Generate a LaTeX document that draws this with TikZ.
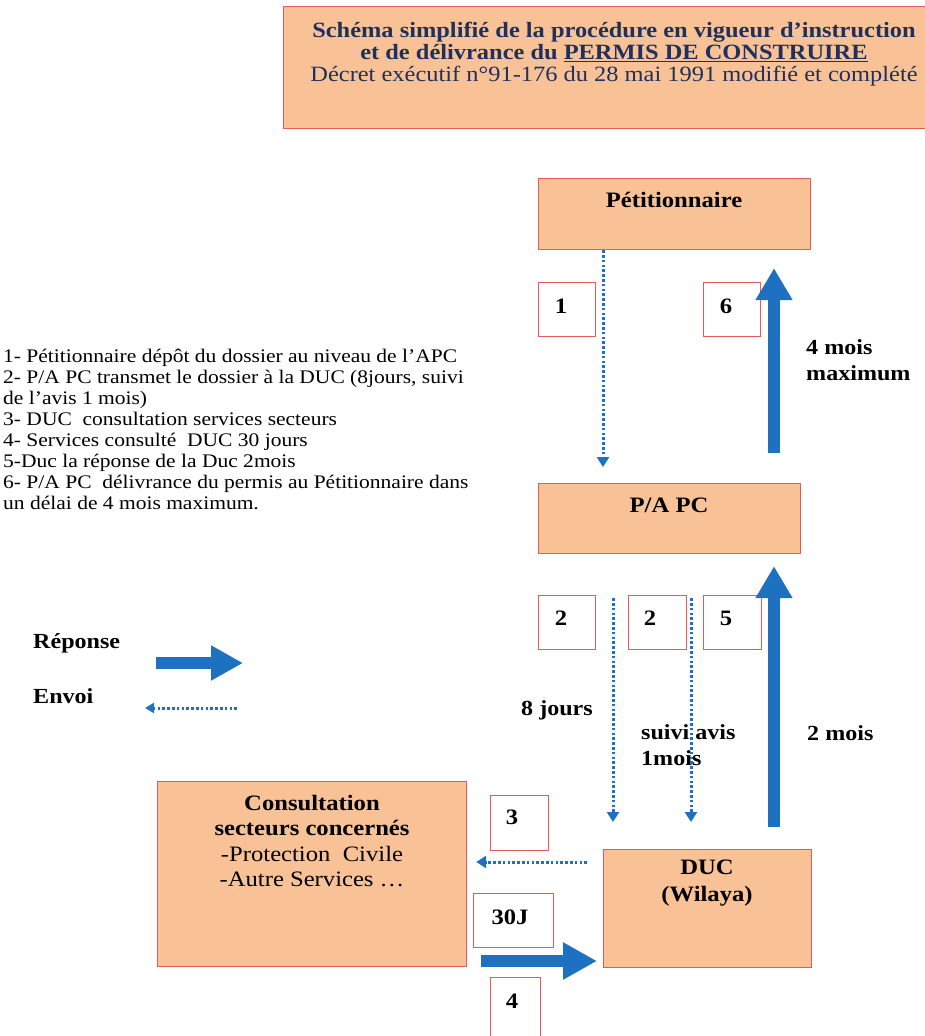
\documentclass[tikz,border=0pt]{standalone}
\usepackage{fontspec}
\setmainfont[FakeStretch=1.12]{Liberation Serif}
\usetikzlibrary{arrows.meta}
\definecolor{peach}{RGB}{248,193,150}
\definecolor{boxred}{RGB}{226,92,92}
\definecolor{flowblue}{RGB}{30,112,192}
\definecolor{navy}{RGB}{31,48,92}

\begin{document}
\begin{tikzpicture}[x=1pt,y=-1pt,
  panel/.style={draw=boxred, line width=1.2pt, fill=peach, inner sep=0pt, anchor=north west},
  numbox/.style={draw=boxred, line width=1.2pt, fill=white, inner sep=0pt, anchor=north west},
  boxtitle/.style={font=\fontsize{22}{26}\selectfont\bfseries, align=center, inner sep=0pt},
  numlabel/.style={font=\fontsize{22}{26}\selectfont\bfseries, inner sep=0pt},
  note/.style={font=\fontsize{21.5}{26}\selectfont\bfseries, align=left, inner sep=0pt, anchor=west},
  bigarrow/.style={draw=flowblue, line width=12pt, -{Triangle[width=35pt,length=32pt]}},
  sendarrow/.style={draw=flowblue, line width=3pt, dash pattern=on 2.6pt off 2.2pt,
    -{Triangle[width=12pt,length=10pt]}}
]
\useasboundingbox (0,0) rectangle (925,1036);

% title banner
\node[panel, minimum width=660pt, minimum height=122pt] (banner) at (283,6) {};
\node[inner sep=0pt, align=center, text=navy, font=\fontsize{21.8}{22}\selectfont] (titletext) at (614,54)
  {\textbf{Schéma simplifié de la procédure en vigueur d’instruction}\\
   \textbf{et de délivrance du \underline{PERMIS DE CONSTRUIRE}}\\
   Décret exécutif n°91-176 du 28 mai 1991 modifié et complété};

% step list
\node[inner sep=0pt, anchor=north west, align=left, font=\fontsize{19.2}{21}\selectfont] (steps) at (3,349)
  {1- Pétitionnaire dépôt du dossier au niveau de l’APC\\
   2- P/A PC transmet le dossier à la DUC (8jours, suivi\\
   de l’avis 1 mois)\\
   3- DUC\ \ consultation services secteurs\\
   4- Services consulté\ \ DUC 30 jours\\
   5-Duc la réponse de la Duc 2mois\\
   6- P/A PC\ \ délivrance du permis au Pétitionnaire dans\\
   un délai de 4 mois maximum.};

% actors
\node[panel, minimum width=272pt, minimum height=71pt] (petit) at (538,178) {};
\node[boxtitle] (petitlbl) at (674,200) {Pétitionnaire};

\node[panel, minimum width=262pt, minimum height=70pt] (papc) at (538,483) {};
\node[boxtitle] (papclbl) at (669,505) {P/A PC};

\node[panel, minimum width=309pt, minimum height=185pt] (consult) at (157,781) {};
\node[inner sep=0pt, align=center, font=\fontsize{22}{25.5}\selectfont] (consultlbl) at (312,841)
  {\textbf{Consultation}\\\textbf{secteurs concernés}\\-Protection\ \ Civile\\-Autre Services …};

\node[panel, minimum width=208pt, minimum height=118pt] (duc) at (603,849) {};
\node[boxtitle, font=\fontsize{22}{27}\selectfont\bfseries] (duclbl) at (707,883) {DUC\\(Wilaya)};

% step number boxes
\node[numbox, minimum width=57pt, minimum height=54pt] (n1) at (538,282) {};
\node[numlabel] at (561,306) {1};
\node[numbox, minimum width=57pt, minimum height=54pt] (n6) at (703,282) {};
\node[numlabel] at (726,306) {6};
\node[numbox, minimum width=57pt, minimum height=54pt] (n2a) at (538,595) {};
\node[numlabel] at (561,618) {2};
\node[numbox, minimum width=58pt, minimum height=54pt] (n2b) at (628,595) {};
\node[numlabel] at (650,618) {2};
\node[numbox, minimum width=58pt, minimum height=54pt] (n5) at (703,595) {};
\node[numlabel] at (726,618) {5};
\node[numbox, minimum width=58pt, minimum height=55pt] (n3) at (490,795) {};
\node[numlabel] at (512,817) {3};
\node[numbox, minimum width=80pt, minimum height=54pt] (n30) at (473,893) {};
\node[numlabel] at (510,917) {30J};
\node[numbox, minimum width=50pt, minimum height=70pt] (n4) at (490,977) {};
\node[numlabel] at (512,1001) {4};

% delay notes
\node[note] (d6) at (806,360) {4 mois\\maximum};
\node[note] (d8) at (521,710) {8 jours};
\node[note] (dsuivi) at (641,745) {suivi avis\\1mois};
\node[note] (d5) at (807,733) {2 mois};

% legend
\node[note] (leg1) at (33,643) {Réponse};
\node[note] (leg2) at (33,696) {Envoi};
\coordinate (legA1) at (156,663);
\coordinate (legA2) at (243,663);
\coordinate (legB1) at (237,708);
\coordinate (legB2) at (145,708);
\draw[draw=flowblue, line width=12pt, -{Triangle[width=33pt,length=32pt]}] (legA1) -- (legA2);
\draw[sendarrow, -{Triangle[width=10pt,length=9pt]}] (legB1) -- (legB2);

% flows
\coordinate (x1) at (603,0);
\coordinate (x6) at (774,0);
\coordinate (x2a) at (613,0);
\coordinate (x2b) at (691,0);
\coordinate (y34) at (0,862);
\coordinate (y4) at (0,961);
\draw[sendarrow] (petit.south -| x1) -- ([yshift=16pt]papc.north -| x1);
\draw[bigarrow, shorten <=30pt, shorten >=18pt] (papc.north -| x6) -- (petit.south -| x6);
\draw[sendarrow, shorten <=44pt] (papc.south -| x2a) -- ([yshift=27pt]duc.north -| x2a);
\draw[sendarrow, shorten <=44pt] (papc.south -| x2b) -- ([yshift=27pt]duc.north -| x2b);
\draw[bigarrow, shorten <=22pt, shorten >=12pt] (duc.north -| x6) -- (papc.south -| x6);
\draw[sendarrow, shorten <=16pt, shorten >=9pt] (duc.west |- y34) -- (consult.east |- y34);
\draw[bigarrow, -{Triangle[width=35pt,length=34pt]}, shorten <=14pt, shorten >=6pt] (consult.east |- y4) -- (duc.west |- y4);
\end{tikzpicture}
\end{document}
